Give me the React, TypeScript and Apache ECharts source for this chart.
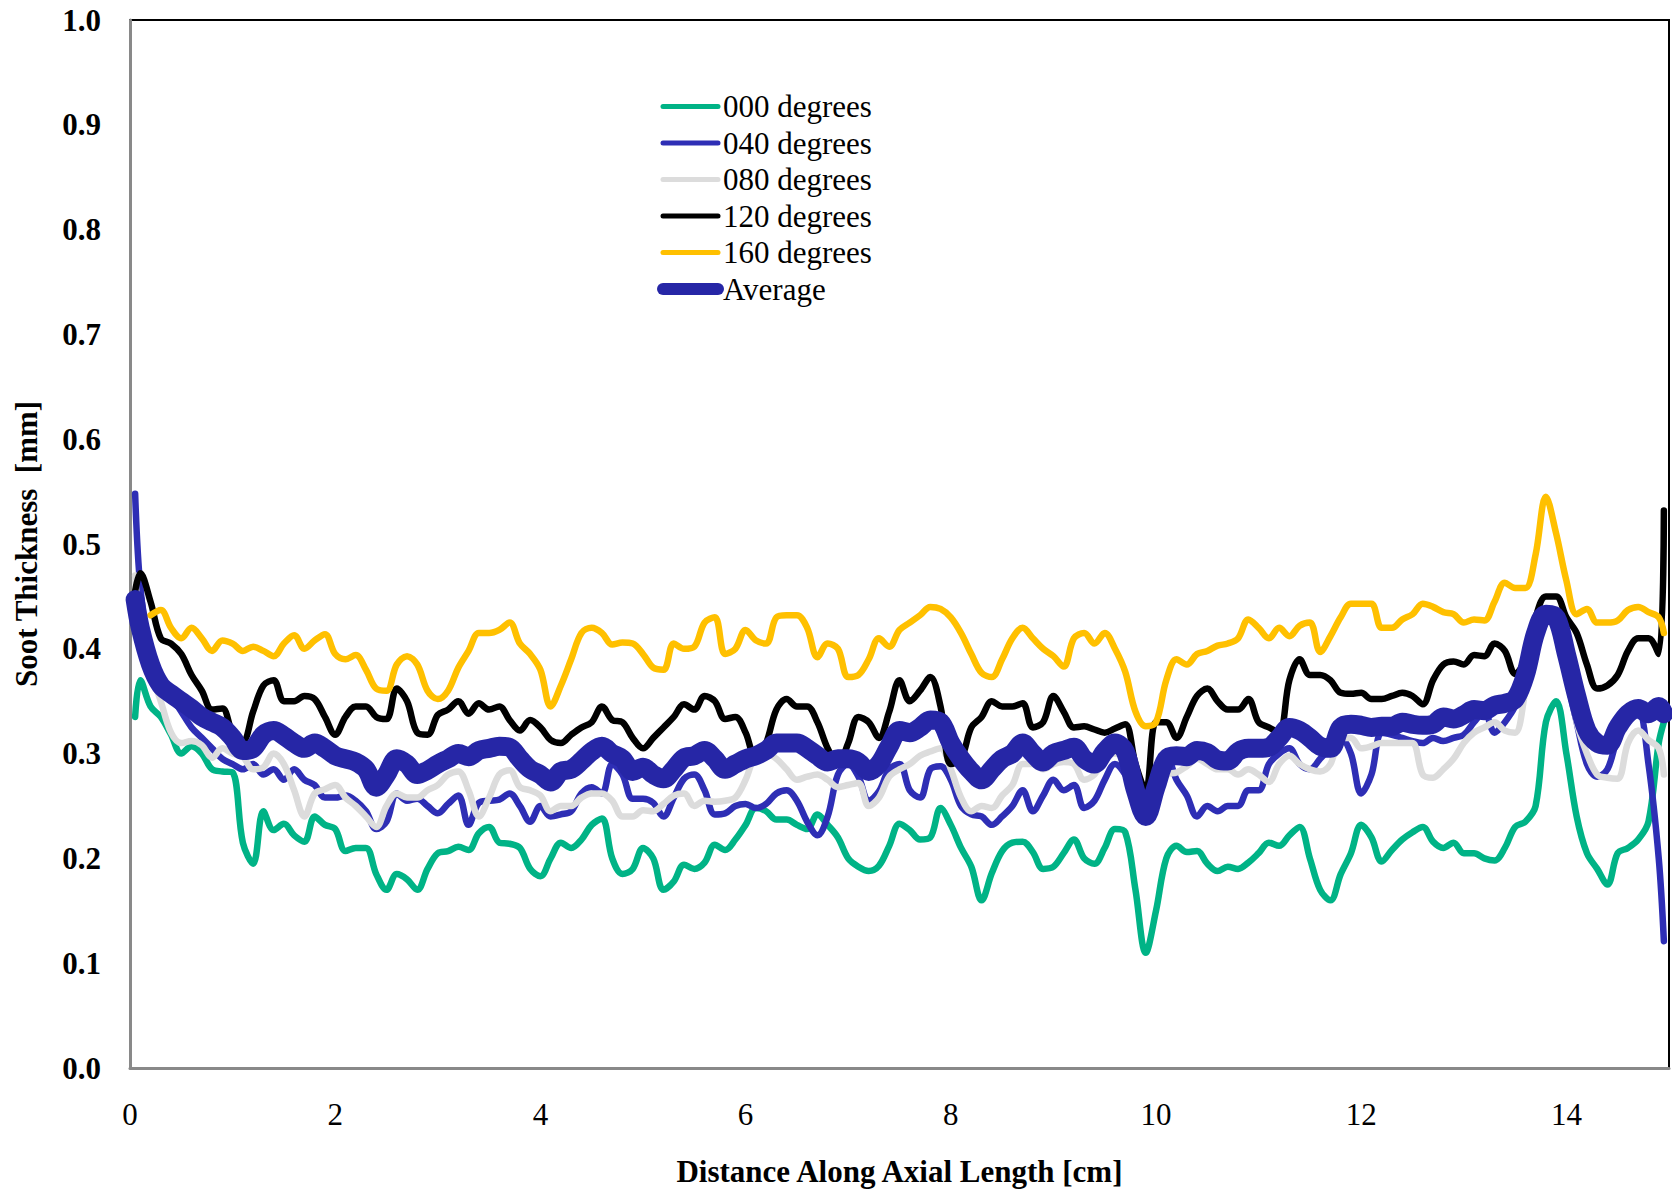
import React, { useEffect, useRef } from "react";
import * as echarts from "echarts";

// Sampling positions along the tube axis [cm]
const DISTANCE_CM = [
  0.05, 0.1, 0.2, 0.3, 0.4, 0.5, 0.6, 0.7, 0.8, 0.9,
  1.0, 1.1, 1.2, 1.3, 1.4, 1.5, 1.6, 1.7, 1.8, 1.9,
  2.0, 2.1, 2.2, 2.3, 2.4, 2.5, 2.6, 2.7, 2.8, 2.9,
  3.0, 3.1, 3.2, 3.3, 3.4, 3.5, 3.6, 3.7, 3.8, 3.9,
  4.0, 4.1, 4.2, 4.3, 4.4, 4.5, 4.6, 4.7, 4.8, 4.9,
  5.0, 5.1, 5.2, 5.3, 5.4, 5.5, 5.6, 5.7, 5.8, 5.9,
  6.0, 6.1, 6.2, 6.3, 6.4, 6.5, 6.6, 6.7, 6.8, 6.9,
  7.0, 7.1, 7.2, 7.3, 7.4, 7.5, 7.6, 7.7, 7.8, 7.9,
  8.0, 8.1, 8.2, 8.3, 8.4, 8.5, 8.6, 8.7, 8.8, 8.9,
  9.0, 9.1, 9.2, 9.3, 9.4, 9.5, 9.6, 9.7, 9.8, 9.9,
  10.0, 10.1, 10.2, 10.3, 10.4, 10.5, 10.6, 10.7, 10.8, 10.9,
  11.0, 11.1, 11.2, 11.3, 11.4, 11.5, 11.6, 11.7, 11.8, 11.9,
  12.0, 12.1, 12.2, 12.3, 12.4, 12.5, 12.6, 12.7, 12.8, 12.9,
  13.0, 13.1, 13.2, 13.3, 13.4, 13.5, 13.6, 13.7, 13.8, 13.9,
  14.0, 14.1, 14.2, 14.3, 14.4, 14.5, 14.6, 14.7, 14.8, 14.9,
  14.95,
];

// Soot thickness [mm] at each angular position
const DEG_000 = [
  0.335, 0.37, 0.345, 0.335, 0.318, 0.3, 0.307, 0.3, 0.285, 0.283,
  0.282, 0.215, 0.195, 0.245, 0.227, 0.233, 0.222, 0.216, 0.24, 0.232,
  0.228, 0.207, 0.21, 0.21, 0.185, 0.17, 0.185, 0.18, 0.17, 0.19,
  0.205, 0.207, 0.211, 0.208, 0.224, 0.23, 0.215, 0.214, 0.21, 0.19,
  0.183, 0.2, 0.215, 0.21, 0.218, 0.232, 0.238, 0.2, 0.185, 0.19,
  0.21, 0.2, 0.17, 0.178, 0.194, 0.19, 0.196, 0.213, 0.208, 0.218,
  0.232, 0.248, 0.245, 0.237, 0.237, 0.232, 0.228, 0.242, 0.232, 0.22,
  0.2, 0.192, 0.188, 0.193, 0.212, 0.233, 0.227, 0.218, 0.22, 0.248,
  0.232, 0.21, 0.192, 0.16, 0.186, 0.207, 0.215, 0.216, 0.206, 0.19,
  0.192, 0.205, 0.218, 0.2, 0.195, 0.21, 0.228, 0.225, 0.17, 0.11,
  0.15, 0.2, 0.212, 0.206, 0.207, 0.195, 0.188, 0.192, 0.19, 0.196,
  0.205, 0.215, 0.212, 0.222, 0.23, 0.2, 0.17, 0.16, 0.185, 0.205,
  0.232, 0.22, 0.197, 0.208, 0.218, 0.225, 0.23, 0.216, 0.21, 0.215,
  0.205, 0.205, 0.2, 0.198, 0.21, 0.23, 0.235, 0.25, 0.33, 0.35,
  0.3, 0.24, 0.205, 0.19, 0.175, 0.205, 0.21, 0.218, 0.235, 0.31,
  0.33,
];

const DEG_040 = [
  0.548, 0.46, 0.39, 0.37, 0.355, 0.34, 0.325, 0.315, 0.305, 0.295,
  0.29, 0.285, 0.29, 0.28, 0.285, 0.275, 0.285, 0.275, 0.27, 0.258,
  0.258, 0.26, 0.255, 0.245, 0.228, 0.235, 0.262, 0.255, 0.257, 0.25,
  0.243, 0.252, 0.26, 0.232, 0.253, 0.255, 0.256, 0.262, 0.25, 0.235,
  0.25, 0.24, 0.242, 0.245, 0.262, 0.268, 0.262, 0.29, 0.28, 0.257,
  0.257, 0.253, 0.24, 0.258, 0.276, 0.28, 0.265, 0.242, 0.243, 0.25,
  0.252, 0.248, 0.252, 0.262, 0.265, 0.255, 0.235, 0.222, 0.24, 0.28,
  0.29, 0.278, 0.255, 0.264, 0.285, 0.29, 0.265, 0.258, 0.285, 0.288,
  0.275, 0.25, 0.242, 0.24, 0.232, 0.24, 0.25, 0.265, 0.245, 0.26,
  0.275, 0.265, 0.27, 0.248, 0.255, 0.275, 0.29, 0.28, 0.26, 0.25,
  0.28, 0.298, 0.275, 0.26, 0.24, 0.25, 0.245, 0.25, 0.25, 0.265,
  0.265, 0.29, 0.3, 0.305, 0.29, 0.285, 0.295, 0.305, 0.315, 0.3,
  0.262, 0.28, 0.32, 0.318, 0.315, 0.312, 0.31, 0.315, 0.312, 0.315,
  0.318, 0.33, 0.34, 0.32, 0.33, 0.345, 0.37, 0.41, 0.435, 0.425,
  0.375, 0.33, 0.29, 0.278, 0.285, 0.315, 0.33, 0.34, 0.29, 0.2,
  0.121,
];

const DEG_080 = [
  0.47, 0.42, 0.38, 0.35, 0.32, 0.31, 0.312, 0.308, 0.296, 0.305,
  0.3, 0.297, 0.285, 0.287, 0.3, 0.29, 0.265, 0.24, 0.262, 0.266,
  0.27, 0.258, 0.25, 0.24, 0.23, 0.25, 0.262, 0.258, 0.258, 0.265,
  0.27, 0.28, 0.283, 0.265, 0.24, 0.258, 0.28, 0.284, 0.268, 0.265,
  0.26, 0.245, 0.25, 0.25, 0.258, 0.262, 0.262, 0.255, 0.24, 0.24,
  0.246, 0.245, 0.252, 0.26, 0.262, 0.25, 0.255, 0.254, 0.255, 0.258,
  0.275, 0.298, 0.3, 0.295, 0.285, 0.275, 0.278, 0.28, 0.275, 0.268,
  0.27, 0.272, 0.25, 0.258, 0.278, 0.285, 0.29, 0.298, 0.302, 0.305,
  0.285, 0.258, 0.245, 0.25, 0.248, 0.26, 0.27, 0.29, 0.29, 0.285,
  0.29, 0.292, 0.29, 0.275, 0.28, 0.295, 0.3, 0.295, 0.265, 0.245,
  0.262, 0.28, 0.282, 0.288, 0.295, 0.29, 0.285, 0.285, 0.28, 0.285,
  0.28, 0.273, 0.29, 0.298, 0.29, 0.285, 0.283, 0.29, 0.315, 0.315,
  0.305, 0.307, 0.31, 0.31, 0.31, 0.31, 0.28, 0.277, 0.285, 0.295,
  0.31, 0.32, 0.325, 0.33, 0.322, 0.32, 0.36, 0.41, 0.43, 0.42,
  0.38, 0.33, 0.3, 0.28, 0.277, 0.276, 0.31, 0.322, 0.313, 0.305,
  0.28,
];

const DEG_120 = [
  0.455, 0.472, 0.445, 0.41, 0.405, 0.395, 0.375, 0.36, 0.342, 0.343,
  0.32, 0.312, 0.34, 0.365, 0.37, 0.35, 0.35, 0.355, 0.352, 0.335,
  0.318, 0.335, 0.345, 0.345, 0.335, 0.333, 0.362, 0.35, 0.32, 0.318,
  0.337, 0.342, 0.35, 0.338, 0.348, 0.342, 0.345, 0.332, 0.322, 0.332,
  0.325, 0.313, 0.31, 0.318, 0.325, 0.33, 0.345, 0.332, 0.33, 0.315,
  0.305, 0.315, 0.325, 0.335, 0.347, 0.342, 0.355, 0.35, 0.333, 0.335,
  0.32, 0.295, 0.31, 0.342, 0.352, 0.345, 0.345, 0.33, 0.305, 0.29,
  0.31, 0.335, 0.33, 0.315, 0.34, 0.37, 0.35, 0.36, 0.373, 0.345,
  0.29, 0.295, 0.325, 0.335, 0.35, 0.345, 0.345, 0.348, 0.325, 0.33,
  0.355, 0.34, 0.325, 0.326, 0.323, 0.32, 0.324, 0.328, 0.29, 0.265,
  0.33, 0.33, 0.315, 0.335, 0.355, 0.362, 0.35, 0.342, 0.342, 0.352,
  0.33, 0.325, 0.32, 0.37, 0.39, 0.375, 0.375, 0.37, 0.358, 0.357,
  0.358, 0.352, 0.352, 0.355, 0.358, 0.355, 0.347, 0.37, 0.385, 0.388,
  0.385, 0.394, 0.393, 0.405, 0.398, 0.376, 0.39, 0.43, 0.45, 0.45,
  0.43, 0.415, 0.385, 0.362, 0.365, 0.375, 0.398, 0.41, 0.41, 0.395,
  0.532,
];

const DEG_160 = [
  null, null, 0.432, 0.437, 0.42, 0.41, 0.42, 0.41, 0.398, 0.408,
  0.405, 0.398, 0.402, 0.398, 0.393, 0.405, 0.413, 0.4, 0.408, 0.414,
  0.395, 0.39, 0.394, 0.38, 0.362, 0.36, 0.385, 0.393, 0.385, 0.36,
  0.352, 0.36, 0.382, 0.398, 0.415, 0.415, 0.418, 0.425, 0.405, 0.395,
  0.38, 0.345, 0.365, 0.39, 0.415, 0.42, 0.415, 0.404, 0.406, 0.405,
  0.395, 0.382, 0.38, 0.405, 0.4, 0.402, 0.425, 0.43, 0.395, 0.4,
  0.418, 0.408, 0.405, 0.43, 0.432, 0.432, 0.42, 0.392, 0.405, 0.4,
  0.373, 0.375, 0.39, 0.41, 0.402, 0.418, 0.425, 0.432, 0.44, 0.438,
  0.43, 0.415, 0.395, 0.377, 0.373, 0.39, 0.41, 0.42, 0.41, 0.4,
  0.393, 0.383, 0.41, 0.415, 0.405, 0.415, 0.4, 0.378, 0.34, 0.326,
  0.33, 0.37, 0.39, 0.385, 0.395, 0.398, 0.403, 0.405, 0.41, 0.428,
  0.42, 0.41, 0.42, 0.412, 0.422, 0.425, 0.397, 0.412, 0.43, 0.443,
  0.443, 0.443, 0.42, 0.42, 0.428, 0.433, 0.443, 0.44, 0.435, 0.433,
  0.425, 0.428, 0.427, 0.445, 0.463, 0.458, 0.458, 0.49, 0.545, 0.51,
  0.465, 0.433, 0.438, 0.425, 0.425, 0.427, 0.437, 0.44, 0.435, 0.43,
  0.415,
];

const AVERAGE = [
  0.447, 0.42, 0.385, 0.365, 0.357, 0.35, 0.343, 0.335, 0.33, 0.325,
  0.315, 0.303, 0.305, 0.318, 0.322, 0.317, 0.31, 0.305, 0.31, 0.305,
  0.298, 0.295, 0.292, 0.285, 0.268, 0.28, 0.295, 0.29, 0.28, 0.284,
  0.29, 0.295, 0.3, 0.297, 0.303, 0.305, 0.307, 0.306, 0.295, 0.285,
  0.28, 0.273, 0.283, 0.285, 0.293, 0.302, 0.307, 0.3, 0.295, 0.283,
  0.287, 0.28, 0.276, 0.285, 0.296, 0.298, 0.303, 0.295, 0.285, 0.29,
  0.295, 0.298, 0.303, 0.31, 0.31, 0.31, 0.305, 0.298, 0.292, 0.295,
  0.295, 0.292, 0.283, 0.29, 0.307, 0.322, 0.32, 0.325, 0.332, 0.33,
  0.31, 0.295, 0.283, 0.275, 0.285, 0.295, 0.3, 0.31, 0.3, 0.292,
  0.3, 0.303, 0.306, 0.295, 0.29, 0.302, 0.31, 0.302, 0.265, 0.24,
  0.268, 0.295, 0.298, 0.297, 0.303, 0.301, 0.294, 0.293, 0.302, 0.305,
  0.305, 0.306, 0.315, 0.325, 0.322, 0.315, 0.307, 0.305, 0.325, 0.328,
  0.327, 0.325, 0.326, 0.326, 0.33, 0.328, 0.327, 0.328, 0.335, 0.333,
  0.337, 0.342, 0.341, 0.346, 0.348, 0.352, 0.375, 0.415, 0.433, 0.43,
  0.395, 0.355, 0.322, 0.31, 0.308, 0.325, 0.338, 0.343, 0.338, 0.345,
  0.338,
];

const SERIES_NAMES = ["000 degrees", "040 degrees", "080 degrees", "120 degrees", "160 degrees", "Average"];
const SERIES_VALUES = [DEG_000, DEG_040, DEG_080, DEG_120, DEG_160, AVERAGE];
const SERIES_COLORS = ["#00b386", "#2e2eb5", "#dcdcdc", "#000000", "#ffc000", "#2626a6"];
const SERIES_WIDTHS = [6.5, 6.5, 6.5, 6.5, 6.5, 19];
const LEGEND_WIDTHS = [5, 5, 5, 5, 5, 12];

const FONT = "'Liberation Serif', 'Times New Roman', Times, serif";

export default function App() {
  const ref = useRef<HTMLDivElement>(null);

  useEffect(() => {
    if (!ref.current) return;
    const chart = echarts.init(ref.current, null, { renderer: "svg" });

    const series = SERIES_NAMES.map((name, k) => ({
      name,
      type: "line",
      symbol: "none",
      smooth: 0.35,
      connectNulls: false,
      z: k === 5 ? 5 : 2,
      lineStyle: { color: SERIES_COLORS[k], width: SERIES_WIDTHS[k], cap: "round", join: "round" },
      itemStyle: { color: SERIES_COLORS[k] },
      data: DISTANCE_CM.map((d, i) => [d, SERIES_VALUES[k][i] === null ? "-" : SERIES_VALUES[k][i]]),
    }));

    chart.setOption({
      animation: false,
      backgroundColor: "#ffffff",
      grid: {
        left: 130,
        right: 2,
        top: 20,
        bottom: 124,
        show: true,
        borderColor: "#000000",
        borderWidth: 2,
      },
      legend: {
        orient: "vertical",
        left: 652,
        top: 86,
        itemWidth: 55,
        itemHeight: 12,
        itemGap: 5.5,
        itemStyle: { opacity: 0 },
        textStyle: { fontFamily: FONT, fontSize: 31, color: "#000000", lineHeight: 30 },
        data: SERIES_NAMES.map((name, k) => ({
          name,
          lineStyle: { color: SERIES_COLORS[k], width: LEGEND_WIDTHS[k], cap: "round" },
        })),
      },
      xAxis: {
        type: "value",
        min: 0,
        max: 15,
        interval: 2,
        name: "Distance Along Axial Length [cm]",
        nameLocation: "middle",
        nameGap: 88,
        nameTextStyle: { fontFamily: FONT, fontSize: 31, fontWeight: "bold", color: "#000000" },
        axisLine: { show: true, lineStyle: { color: "#898989", width: 3 } },
        axisTick: { show: false },
        splitLine: { show: false },
        axisLabel: {
          fontFamily: FONT,
          fontSize: 31,
          color: "#000000",
          margin: 31,
          formatter: (v: number) => (v % 2 === 0 ? String(v) : ""),
        },
      },
      yAxis: {
        type: "value",
        min: 0,
        max: 1,
        interval: 0.1,
        name: "Soot Thickness  [mm]",
        nameLocation: "middle",
        nameGap: 88,
        nameTextStyle: { fontFamily: FONT, fontSize: 31, fontWeight: "bold", color: "#000000" },
        axisLine: { show: true, lineStyle: { color: "#898989", width: 3 } },
        axisTick: { show: false },
        splitLine: { show: false },
        axisLabel: {
          fontFamily: FONT,
          fontSize: 31,
          fontWeight: "bold",
          color: "#000000",
          margin: 29,
          formatter: (v: number) => v.toFixed(1),
        },
      },
      series,
    });

    return () => chart.dispose();
  }, []);

  return (
    <div
      ref={ref}
      style={{ position: "absolute", left: 0, top: 0, width: 1672, height: 1192, background: "#fff" }}
    />
  );
}
